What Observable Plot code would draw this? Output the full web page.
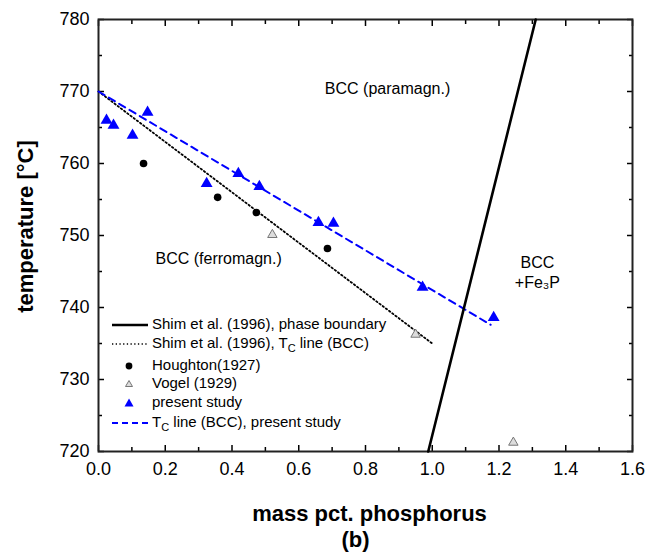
<!DOCTYPE html>
<html><head><meta charset="utf-8">
<script src="https://cdn.jsdelivr.net/npm/d3@7"></script>
<script src="https://cdn.jsdelivr.net/npm/@observablehq/plot@0.6"></script>
<style>
body{margin:0;background:#fff;font-family:"Liberation Sans",Arial,sans-serif;}
#wrap{position:relative;width:660px;height:552px;}
.lg{position:absolute;left:110px;font-size:15px;color:#000;white-space:nowrap;height:20px;line-height:20px;}
.lg svg{vertical-align:middle;margin-right:2px;}
.lg sub{font-size:11px;vertical-align:-4px;line-height:0;}
</style></head><body><div id="wrap"></div>
<script>
// present study (blue triangles)
const presentX = [0.024, 0.045, 0.102, 0.147, 0.324, 0.419, 0.482, 0.659, 0.704, 0.971, 1.184];
const presentY = [766.0, 765.3, 763.9, 767.1, 757.2, 758.6, 756.8, 751.8, 751.7, 742.8, 738.6];
// Houghton (1927)
const houghtonX = [0.135, 0.357, 0.473, 0.686];
const houghtonY = [760.0, 755.3, 753.2, 748.2];
// Vogel (1929)
const vogelX = [0.521, 0.950, 1.243];
const vogelY = [750.1, 736.25, 721.25];
// Shim et al. (1996) phase boundary
const boundaryX = [0.988, 1.31];
const boundaryY = [720, 780];
// Shim et al. (1996) Tc line
const shimTcX = [0.0, 1.0];
const shimTcY = [770, 735];
// Tc line present study
const presentTcX = [0.0, 1.175];
const presentTcY = [770, 737.6];
// ticks
const xTicks = [0, 0.2, 0.4, 0.6, 0.8, 1.0, 1.2, 1.4, 1.6];
const xMinor = [0.1, 0.3, 0.5, 0.7, 0.9, 1.1, 1.3, 1.5];
const yTicks = [720, 730, 740, 750, 760, 770, 780];
const yMinor = [725, 735, 745, 755, 765, 775];
// region labels
const regionText = ["BCC (paramagn.)", "BCC (ferromagn.)", "BCC", "+Fe\u2083P"];
const regionX = [0.866, 0.36, 1.315, 1.315];
const regionY = [770.4, 746.7, 746.25, 743.4];
const regionAnchor = ["middle", "middle", "start", "start"];

const pts = (xs, ys) => xs.map((x, i) => ({x, y: ys[i]}));
const regions = regionText.map((t, i) => ({t, x: regionX[i], y: regionY[i], a: regionAnchor[i]}));

const chart = Plot.plot({
  width: 660, height: 552,
  marginLeft: 98, marginRight: 28, marginTop: 19, marginBottom: 101,
  style: {fontFamily: '"Liberation Sans", Arial, sans-serif', background: "#fff"},
  x: {domain: [0, 1.6]},
  y: {domain: [720, 780]},
  marks: [
    Plot.axisX({anchor: "bottom", ticks: xTicks, tickSize: -6, tickPadding: 17, tickFormat: d3.format(".1f"), fontSize: 18, label: null, strokeWidth: 1.5}),
    Plot.axisX({anchor: "bottom", ticks: xMinor, tickSize: -4, tickFormat: () => "", label: null, strokeWidth: 1.5}),
    Plot.axisX({anchor: "top", ticks: xTicks, tickSize: -6, tickFormat: () => "", label: null, strokeWidth: 1.5}),
    Plot.axisX({anchor: "top", ticks: xMinor, tickSize: -4, tickFormat: () => "", label: null, strokeWidth: 1.5}),
    Plot.axisY({anchor: "left", ticks: yTicks, tickSize: -6, tickPadding: 15, fontSize: 18, label: null, strokeWidth: 1.5}),
    Plot.axisY({anchor: "left", ticks: yMinor, tickSize: -4, tickFormat: () => "", label: null, strokeWidth: 1.5}),
    Plot.axisY({anchor: "right", ticks: yTicks, tickSize: -6, tickFormat: () => "", label: null, strokeWidth: 1.5}),
    Plot.axisY({anchor: "right", ticks: yMinor, tickSize: -4, tickFormat: () => "", label: null, strokeWidth: 1.5}),
    Plot.frame({stroke: "#222", strokeWidth: 2}),
    Plot.line(pts(shimTcX, shimTcY), {x: "x", y: "y", stroke: "#000", strokeWidth: 1.8, strokeDasharray: "1.5,2.5"}),
    Plot.line(pts(presentTcX, presentTcY), {x: "x", y: "y", stroke: "#0000ff", strokeWidth: 2, strokeDasharray: "7,5"}),
    Plot.line(pts(boundaryX, boundaryY), {x: "x", y: "y", stroke: "#000", strokeWidth: 2.6}),
    Plot.dot(pts(houghtonX, houghtonY), {x: "x", y: "y", r: 3.8, fill: "#000"}),
    Plot.dot(pts(vogelX, vogelY), {x: "x", y: "y", r: 3.5, symbol: "triangle", fill: "#ddd", stroke: "#777", strokeWidth: 1}),
    Plot.dot(pts(presentX, presentY), {x: "x", y: "y", r: 4.4, symbol: "triangle", fill: "#0000ff"}),
    Plot.text(regions, {x: "x", y: "y", text: "t", textAnchor: "a", fontSize: 16, fill: "#000"}),
    Plot.text(["temperature [°C]"], {frameAnchor: "left", textAnchor: "middle", rotate: -90, dx: -73, dy: -9, fontSize: 22, fontWeight: "bold", fill: "#000"}),
    Plot.text(["mass pct. phosphorus"], {frameAnchor: "bottom", dx: 4, dy: 69, fontSize: 22, fontWeight: "bold", fill: "#000"}),
    Plot.text(["(b)"], {frameAnchor: "bottom", dx: -10, dy: 95, fontSize: 22, fontWeight: "bold", fill: "#000"})
  ]
});
const wrap = document.getElementById("wrap");
wrap.appendChild(chart);

// legend overlay
const legendRows = [
  {top: 314, html: 'Shim et al. (1996), phase boundary', sample: '<line x1="2" x2="38" y1="10" y2="10" stroke="#000" stroke-width="2.4"/>'},
  {top: 333, html: 'Shim et al. (1996), T<sub>C</sub> line (BCC)', sample: '<line x1="2" x2="38" y1="10" y2="10" stroke="#000" stroke-width="1.6" stroke-dasharray="1.3,2.4"/>'},
  {top: 355, html: 'Houghton(1927)', sample: '<circle cx="19" cy="10" r="3.4" fill="#000"/>'},
  {top: 373, html: 'Vogel (1929)', sample: '<path d="M19,6.5 L22.5,12.5 L15.5,12.5 Z" fill="#ddd" stroke="#777" stroke-width="1"/>'},
  {top: 392, html: 'present study', sample: '<path d="M19,5.5 L23.5,13.5 L14.5,13.5 Z" fill="#0000ff"/>'},
  {top: 412, html: 'T<sub>C</sub> line (BCC), present study', sample: '<line x1="2" x2="38" y1="10" y2="10" stroke="#0000ff" stroke-width="2" stroke-dasharray="6,4"/>'}
];
for (const r of legendRows) {
  const d = document.createElement("div");
  d.className = "lg";
  d.style.top = r.top + "px";
  d.innerHTML = `<svg width="40" height="20">${r.sample}</svg>${r.html}`;
  wrap.appendChild(d);
}
</script>
</body></html>
